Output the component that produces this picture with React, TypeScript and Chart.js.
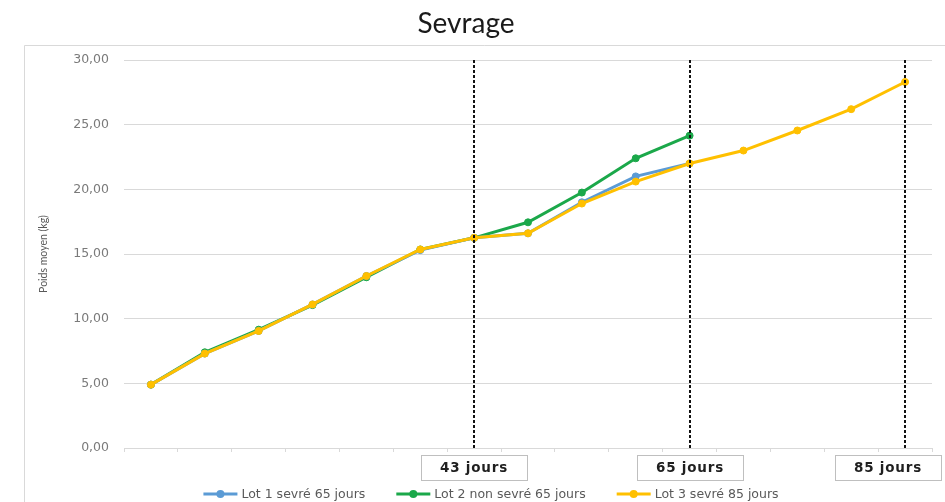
import React, { useEffect, useRef } from "react";
import { Chart, registerables } from "chart.js";

Chart.register(...registerables);

const chartTitle = "Sevrage";
const yAxisTitle = "Poids moyen (kg)";

const pesees = [
  "Pesée 1", "Pesée 2", "Pesée 3", "Pesée 4", "Pesée 5",
  "Pesée 6", "Pesée 7", "Pesée 8", "Pesée 9", "Pesée 10",
  "Pesée 11", "Pesée 12", "Pesée 13", "Pesée 14", "Pesée 15",
];

const lot1Label = "Lot 1 sevré 65 jours";
const lot2Label = "Lot 2 non sevré 65 jours";
const lot3Label = "Lot 3 sevré 85 jours";

const lot1Values = [4.9, 7.3, 9.05, 11.1, 13.3, 15.3, 16.25, 16.6, 19.0, 21.0, 22.0, null, null, null, null];
const lot2Values = [4.9, 7.4, 9.15, 11.05, 13.2, 15.35, 16.25, 17.45, 19.75, 22.4, 24.15, null, null, null, null];
const lot3Values = [4.9, 7.3, 9.05, 11.1, 13.3, 15.35, 16.25, 16.6, 18.9, 20.6, 22.0, 23.0, 24.55, 26.2, 28.3];

const weaningIndexes = [6, 10, 14];
const weaningLabels = ["43 jours", "65 jours", "85 jours"];

const yMin = 0;
const yMax = 30;
const yStep = 5;

const overlayPlugin = {
  id: "sevrageOverlay",
  beforeDraw(chart: any) {
    const { ctx } = chart;
    ctx.save();
    ctx.fillStyle = "#ffffff";
    ctx.fillRect(0, 0, chart.width, chart.height);
    // outer frame
    ctx.strokeStyle = "#d9d9d9";
    ctx.lineWidth = 1;
    ctx.beginPath();
    ctx.moveTo(24.5, chart.height);
    ctx.lineTo(24.5, 45.5);
    ctx.lineTo(chart.width, 45.5);
    ctx.stroke();
    // title
    ctx.fillStyle = "#1a1a1a";
    ctx.font = "28px Lato";
    ctx.textAlign = "center";
    ctx.textBaseline = "alphabetic";
    ctx.fillText(chartTitle, 466, 33);
    ctx.restore();
  },
  afterDatasetsDraw(chart: any) {
    const { ctx, chartArea } = chart;
    const xs = chart.scales.x;
    ctx.save();
    weaningIndexes.forEach((idx, i) => {
      const px = Math.round(xs.getPixelForValue(idx));
      ctx.setLineDash([3, 2]);
      ctx.lineWidth = 2;
      ctx.strokeStyle = "#111111";
      ctx.beginPath();
      ctx.moveTo(px, chartArea.top);
      ctx.lineTo(px, chartArea.bottom);
      ctx.stroke();
      ctx.setLineDash([]);
      const bw = 106;
      const bh = 25;
      let left = px - bw / 2;
      if (left + bw > chart.width - 4) left = chart.width - 4 - bw;
      const top = chartArea.bottom + 7;
      ctx.fillStyle = "#ffffff";
      ctx.fillRect(left, top, bw, bh);
      ctx.strokeStyle = "#bfbfbf";
      ctx.lineWidth = 1;
      ctx.strokeRect(Math.round(left) + 0.5, Math.round(top) + 0.5, bw, bh);
      ctx.fillStyle = "#1f1f1f";
      ctx.font = "bold 13.5px 'DejaVu Sans'";
      (ctx as any).letterSpacing = "0.8px";
      ctx.textAlign = "center";
      ctx.textBaseline = "middle";
      ctx.fillText(weaningLabels[i], left + bw / 2, top + bh / 2 + 1);
      (ctx as any).letterSpacing = "0px";
    });

    // legend
    const items = chart.data.datasets.map((d: any) => ({ label: d.label, color: d.borderColor }));
    ctx.font = "12.5px 'DejaVu Sans'";
    const symW = 34;
    const gapText = 4;
    const gapItem = 31;
    const widths = items.map((it: any) => symW + gapText + ctx.measureText(it.label).width);
    const total = widths.reduce((a: number, b: number) => a + b, 0) + gapItem * (items.length - 1);
    let x = 491 - total / 2;
    const y = 494;
    items.forEach((it: any, i: number) => {
      ctx.strokeStyle = it.color;
      ctx.lineWidth = 3;
      ctx.beginPath();
      ctx.moveTo(x, y);
      ctx.lineTo(x + symW, y);
      ctx.stroke();
      ctx.fillStyle = it.color;
      ctx.beginPath();
      ctx.arc(x + symW / 2, y, 4, 0, Math.PI * 2);
      ctx.fill();
      ctx.fillStyle = "#595959";
      ctx.textAlign = "left";
      ctx.textBaseline = "middle";
      ctx.fillText(it.label, x + symW + gapText, y + 0.5);
      x += widths[i] + gapItem;
    });
    ctx.restore();
  },
};

export default function App() {
  const canvasRef = useRef<HTMLCanvasElement | null>(null);

  useEffect(() => {
    if (!canvasRef.current) return;
    const mk = (label: string, data: (number | null)[], color: string, order: number) => ({
      label,
      data,
      borderColor: color,
      backgroundColor: color,
      pointBackgroundColor: color,
      pointBorderColor: color,
      borderWidth: 3,
      pointRadius: 3.5,
      pointBorderWidth: 1,
      tension: 0,
      spanGaps: false,
      order,
    });
    const chart = new Chart(canvasRef.current, {
      type: "line",
      data: {
        labels: pesees,
        datasets: [
          mk(lot1Label, lot1Values, "#5B9BD5", 2),
          mk(lot2Label, lot2Values, "#1BA84A", 3),
          mk(lot3Label, lot3Values, "#FFC000", 1),
        ],
      },
      options: {
        responsive: false,
        animation: false,
        layout: { padding: { top: 60, left: 24, right: 13, bottom: 44 } },
        plugins: {
          legend: { display: false },
          title: { display: false },
          tooltip: { enabled: false },
        },
        scales: {
          x: {
            type: "category",
            offset: true,
            grid: {
              display: true,
              offset: true,
              drawOnChartArea: false,
              drawTicks: true,
              tickLength: 4,
              color: "#d9d9d9",
            },
            border: { display: true, color: "#d9d9d9", width: 1 },
            ticks: { display: false },
            afterFit: (scale: any) => {
              scale.height = 10;
            },
          },
          y: {
            min: yMin,
            max: yMax,
            ticks: {
              stepSize: yStep,
              padding: 15,
              color: "#7a7a7a",
              font: { family: "'DejaVu Sans'", size: 12.5 },
              callback: (v: any) => Number(v).toFixed(2).replace(".", ","),
            },
            grid: { color: "#d9d9d9", drawTicks: false, lineWidth: 1 },
            border: { display: false },
            title: {
              display: true,
              text: yAxisTitle,
              color: "#595959",
              font: { family: "Lato", size: 10.5 },
              padding: { top: 13, bottom: 0 },
            },
            afterFit: (scale: any) => {
              scale.width = 100;
            },
          },
        },
      },
      plugins: [overlayPlugin],
    });
    return () => chart.destroy();
  }, []);

  return (
    <div style={{ position: "fixed", left: 0, top: 0, width: 945, height: 502, background: "#fff" }}>
      <canvas ref={canvasRef} width={945} height={502} style={{ display: "block" }} />
    </div>
  );
}
